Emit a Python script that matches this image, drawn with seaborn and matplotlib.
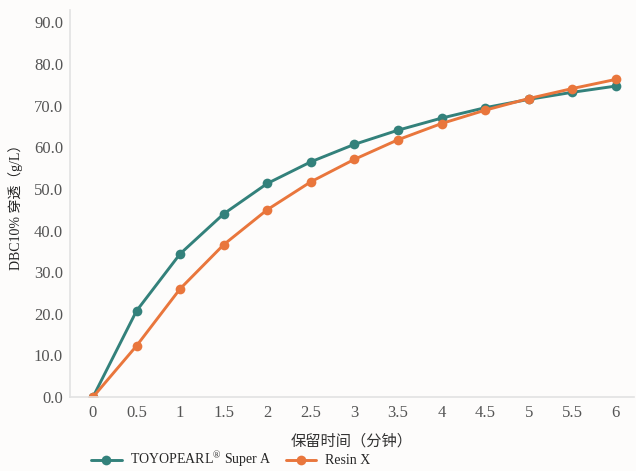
import matplotlib
matplotlib.use("Agg")
import matplotlib.pyplot as plt
import seaborn as sns
import pandas as pd
from matplotlib.lines import Line2D

times = [0, 0.5, 1, 1.5, 2, 2.5, 3, 3.5, 4, 4.5, 5, 5.5, 6]
toyopearl = [0.0, 20.7, 34.4, 44.0, 51.3, 56.5, 60.7, 64.1, 67.0, 69.5, 71.5, 73.2, 74.7]
resin_x = [0.0, 12.3, 26.0, 36.6, 45.0, 51.7, 57.1, 61.8, 65.7, 68.9, 71.7, 74.1, 76.3]
series_names = ["TOYOPEARL® Super A", "Resin X"]
legend_labels = ["TOYOPEARL$^{\\mathregular{®}}$ Super A", "Resin X"]
x_ticklabels = ["0", "0.5", "1", "1.5", "2", "2.5", "3", "3.5", "4", "4.5", "5", "5.5", "6"]
y_ticks = [0, 10, 20, 30, 40, 50, 60, 70, 80, 90]

df = pd.DataFrame({
    "t": times * 2,
    "v": toyopearl + resin_x,
    "s": [series_names[0]] * len(times) + [series_names[1]] * len(times),
})

sns.set_theme(style="white")
plt.rcParams["font.family"] = ["Liberation Serif", "Noto Sans CJK SC", "DejaVu Sans"]
plt.rcParams["mathtext.fontset"] = "stix"

fig = plt.figure(figsize=(6.36, 4.71), dpi=100)
fig.patch.set_facecolor("#fdfcfb")
ax = fig.add_axes([0.110, 0.157, 0.887, 0.822])
ax.set_facecolor("#fdfcfb")

colors = {series_names[0]: "#33817b", series_names[1]: "#e9763c"}
sns.lineplot(data=df, x="t", y="v", hue="s", palette=colors, marker="o",
             markersize=7, markeredgewidth=0, linewidth=2.1, ax=ax, legend=False)

ax.set_xlim(-0.264, 6.21)
ax.set_ylim(0, 93)
ax.set_xticks(times)
ax.set_xticklabels(x_ticklabels)
ax.set_yticks(y_ticks)
ax.set_yticklabels([f"{v:.1f}" for v in y_ticks])
ax.tick_params(axis="both", colors="#555555", labelsize=12, length=0)
ax.tick_params(axis="x", pad=6)
ax.tick_params(axis="y", pad=5)
for s in ["top", "right"]:
    ax.spines[s].set_visible(False)
for s in ["left", "bottom"]:
    ax.spines[s].set_color("#e2e2e2")
    ax.spines[s].set_linewidth(1.2)

ax.set_xlabel("保留时间（分钟）", fontsize=11, color="#333333", labelpad=9)
ax.set_ylabel("DBC10% 穿透（g/L）", fontsize=10, color="#222222", labelpad=8)

handles = [Line2D([0], [0], color=colors[n], marker="o", markersize=7,
                  markeredgewidth=0, linewidth=2.1) for n in series_names]
fig.legend(handles, legend_labels, loc="center left", bbox_to_anchor=(0.128, 0.024),
           ncol=2, frameon=False, fontsize=10, columnspacing=1.0,
           handlelength=2.2, handletextpad=0.6, borderpad=0.2)

fig.savefig("out.png", dpi=100, facecolor=fig.get_facecolor())
